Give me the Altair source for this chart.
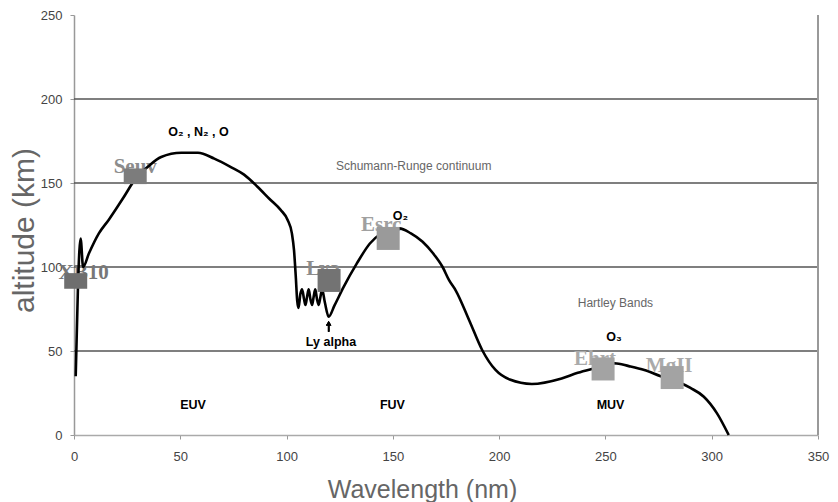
import altair as alt
import pandas as pd

# ---- curve (wavelength nm, altitude km) ----
wl = [0.8, 1.9, 3.1, 4.3, 7, 11.7, 16.3, 22.6, 29.6, 35, 41, 50.5, 58.3, 66, 73.8, 80,
      86.3, 92, 97.2, 100.5, 102.5, 103.5, 104.3, 105, 105.6,
      106.5, 107.3, 108.2, 108.9, 109.6, 110.4, 111.2, 112, 112.7, 113.5, 114.3, 115.1,
      115.9, 116.7, 118, 119.8,
      122.5, 126.8, 133, 139.2, 144, 148.5, 153, 158.5, 164, 169, 173.4, 176.5, 179.6,
      186, 192, 198.3, 205, 215.4, 229.4, 237, 245, 254.3, 261, 268.3, 276, 284, 290,
      296.3, 302.5, 308]
alt_km = [35, 90, 117, 100, 108, 120, 128, 140, 153.6, 160, 165.5, 168, 168, 164.5, 159.5, 155,
          147.8, 140.5, 134, 128, 120, 110, 95, 80, 75.6,
          84, 86.7, 81, 77.4, 82, 86.7, 81, 77.4, 82, 86.7, 81, 77.4,
          82, 86.7, 79, 70.4,
          77, 88, 102, 114, 119.5, 122, 123, 120, 115, 108, 100, 92, 86,
          68, 50.6, 38.7, 33, 30.4, 33.7, 37, 39.7, 42.7, 41, 38.7, 35, 31.7, 28,
          22.8, 12.9, 0]

# ---- index markers ----
mk_names = ["XB10", "Seuv", "Lya", "Esrc", "Ehrt", "MgII"]
mk_wl = [0.8, 28.8, 120, 147.8, 248.9, 281.4]
mk_alt = [91.7, 154, 92, 117, 39.3, 34.2]

# ---- annotations ----
bold_text = ["O₂ , N₂ , O", "O₂", "Ly alpha", "O₃", "EUV", "FUV", "MUV"]
bold_x = [58.6, 153.5, 120.9, 254, 56, 149.8, 252.4]
bold_y = [180.4, 130.4, 55.5, 58.5, 17.9, 17.9, 17.9]

gray_text = ["Schumann-Runge continuum", "Hartley Bands"]
gray_x = [159.8, 254.7]
gray_y = [160, 78.4]

grid_vals = [50, 100, 150, 200]
x_ticks = [0, 50, 100, 150, 200, 250, 300, 350]
y_ticks = [0, 50, 100, 150, 200, 250]

# ---- styles ----
sq_color = {"XB10": "#6e6e6e", "Seuv": "#7c7c7c", "Lya": "#737373",
            "Esrc": "#9a9a9a", "Ehrt": "#a3a3a3", "MgII": "#a3a3a3"}
sq_size = {"XB10": 529, "Seuv": 529, "Lya": 230, "Esrc": 200, "Ehrt": 225, "MgII": 240}
wide = "M-1,-0.68L1,-0.68L1,0.68L-1,0.68Z"
sq_shape = {"XB10": wide, "Seuv": wide, "Lya": "square", "Esrc": "square",
            "Ehrt": "square", "MgII": "square"}
lab_style = {"XB10": (8, -2, "#777777"), "Seuv": (0, -3, "#8c8c8c"),
             "Lya": (-6, -5, "#8c8c8c"), "Esrc": (-7, -7, "#a0a0a0"),
             "Ehrt": (-8, -4, "#aaaaaa"), "MgII": (-3, -6, "#aaaaaa")}

curve_df = pd.DataFrame({"wl": wl, "alt": alt_km, "i": list(range(len(wl)))})
mk_df = pd.DataFrame({"name": mk_names, "wl": mk_wl, "alt": mk_alt})
bold_df = pd.DataFrame({"t": bold_text, "wl": bold_x, "alt": bold_y})
gray_df = pd.DataFrame({"t": gray_text, "wl": gray_x, "alt": gray_y})
grid_df = pd.DataFrame({"alt": grid_vals})

xscale = alt.Scale(domain=[0, 350], nice=False, zero=False)
yscale = alt.Scale(domain=[0, 250], nice=False, zero=False)

xaxis = alt.Axis(values=x_ticks, title="Wavelength (nm)", grid=False, labelFlush=False,
                 labelFont="Liberation Sans", labelFontSize=13, labelColor="#444444",
                 labelPadding=11, tickSize=4, tickColor="#999999",
                 domainColor="#aaaaaa", domainWidth=1.5,
                 titleFont="Liberation Sans Narrow, Liberation Sans", titleFontSize=25,
                 titleFontWeight="normal", titleColor="#666666",
                 titleX=348, titleY=62, titleAlign="center", titleBaseline="alphabetic")
yaxis = alt.Axis(values=y_ticks, title="altitude (km)", grid=False, labelFlush=False,
                 labelFont="Liberation Sans", labelFontSize=13, labelColor="#444444",
                 labelPadding=8, tickSize=4, tickColor="#999999",
                 domainColor="#999999", domainWidth=1.5,
                 titleFont="Liberation Sans", titleFontSize=30,
                 titleFontWeight="normal", titleColor="#666666",
                 titleX=-41, titleY=215, titleAngle=-90,
                 titleAlign="center", titleBaseline="alphabetic")

grid = alt.Chart(grid_df).mark_rule(color="#555555", strokeWidth=1.5).encode(
    y=alt.Y("alt:Q", scale=yscale, axis=yaxis))

right_edge = alt.Chart(grid_df).mark_rule(color="#999999", strokeWidth=1.5).encode(
    x=alt.datum(350, scale=xscale), y=alt.datum(0), y2=alt.datum(250))

layers = [grid, right_edge]

for name in mk_names:
    dx, dy, col = lab_style[name]
    layers.append(
        alt.Chart(mk_df).transform_filter(alt.datum.name == name)
        .mark_text(font="Liberation Serif", fontWeight="bold", fontSize=21,
                   color=col, dx=dx, dy=dy, baseline="alphabetic", align="center")
        .encode(x=alt.X("wl:Q", scale=xscale, axis=xaxis),
                y=alt.Y("alt:Q", scale=yscale), text="name:N"))

line = alt.Chart(curve_df).mark_line(color="black", strokeWidth=2.6,
                                     interpolate="monotone").encode(
    x=alt.X("wl:Q", scale=xscale, axis=xaxis),
    y=alt.Y("alt:Q", scale=yscale, axis=yaxis),
    order="i:Q")
layers.append(line)

squares = alt.Chart(mk_df).mark_point(filled=True, opacity=1).encode(
    x=alt.X("wl:Q", scale=xscale),
    y=alt.Y("alt:Q", scale=yscale),
    color=alt.Color("name:N", scale=alt.Scale(domain=mk_names,
                                              range=[sq_color[n] for n in mk_names]),
                    legend=None),
    shape=alt.Shape("name:N", scale=alt.Scale(domain=mk_names,
                                              range=[sq_shape[n] for n in mk_names]),
                    legend=None),
    size=alt.Size("name:N", scale=alt.Scale(domain=mk_names,
                                            range=[sq_size[n] for n in mk_names]),
                  legend=None))
layers.append(squares)

bold = alt.Chart(bold_df).mark_text(font="Liberation Sans", fontWeight="bold",
                                    fontSize=12.5, color="black", baseline="middle").encode(
    x=alt.X("wl:Q", scale=xscale), y=alt.Y("alt:Q", scale=yscale), text="t:N")
gray = alt.Chart(gray_df).mark_text(font="Liberation Sans", fontSize=12,
                                    color="#666666", baseline="middle").encode(
    x=alt.X("wl:Q", scale=xscale), y=alt.Y("alt:Q", scale=yscale), text="t:N")
layers += [bold, gray]

arrow_stem = alt.Chart(grid_df).mark_rule(color="black", strokeWidth=1.5).encode(
    x=alt.datum(119.8, scale=xscale), y=alt.datum(61.5, scale=yscale), y2=alt.datum(66))
arrow_head = alt.Chart(grid_df).mark_point(shape="triangle-up", filled=True,
                                           color="black", opacity=1, size=28).encode(
    x=alt.datum(119.8, scale=xscale), y=alt.datum(66.5, scale=yscale))
layers += [arrow_stem, arrow_head]

chart = alt.layer(*layers).properties(
    width=744, height=420,
    autosize=alt.AutoSizeParams(type="none"),
    padding={"left": 66, "top": 7, "right": 12, "bottom": 70},
    background="white",
).configure_view(stroke=None)

chart.save("out.html", embed_options={"renderer": "svg", "actions": False})
